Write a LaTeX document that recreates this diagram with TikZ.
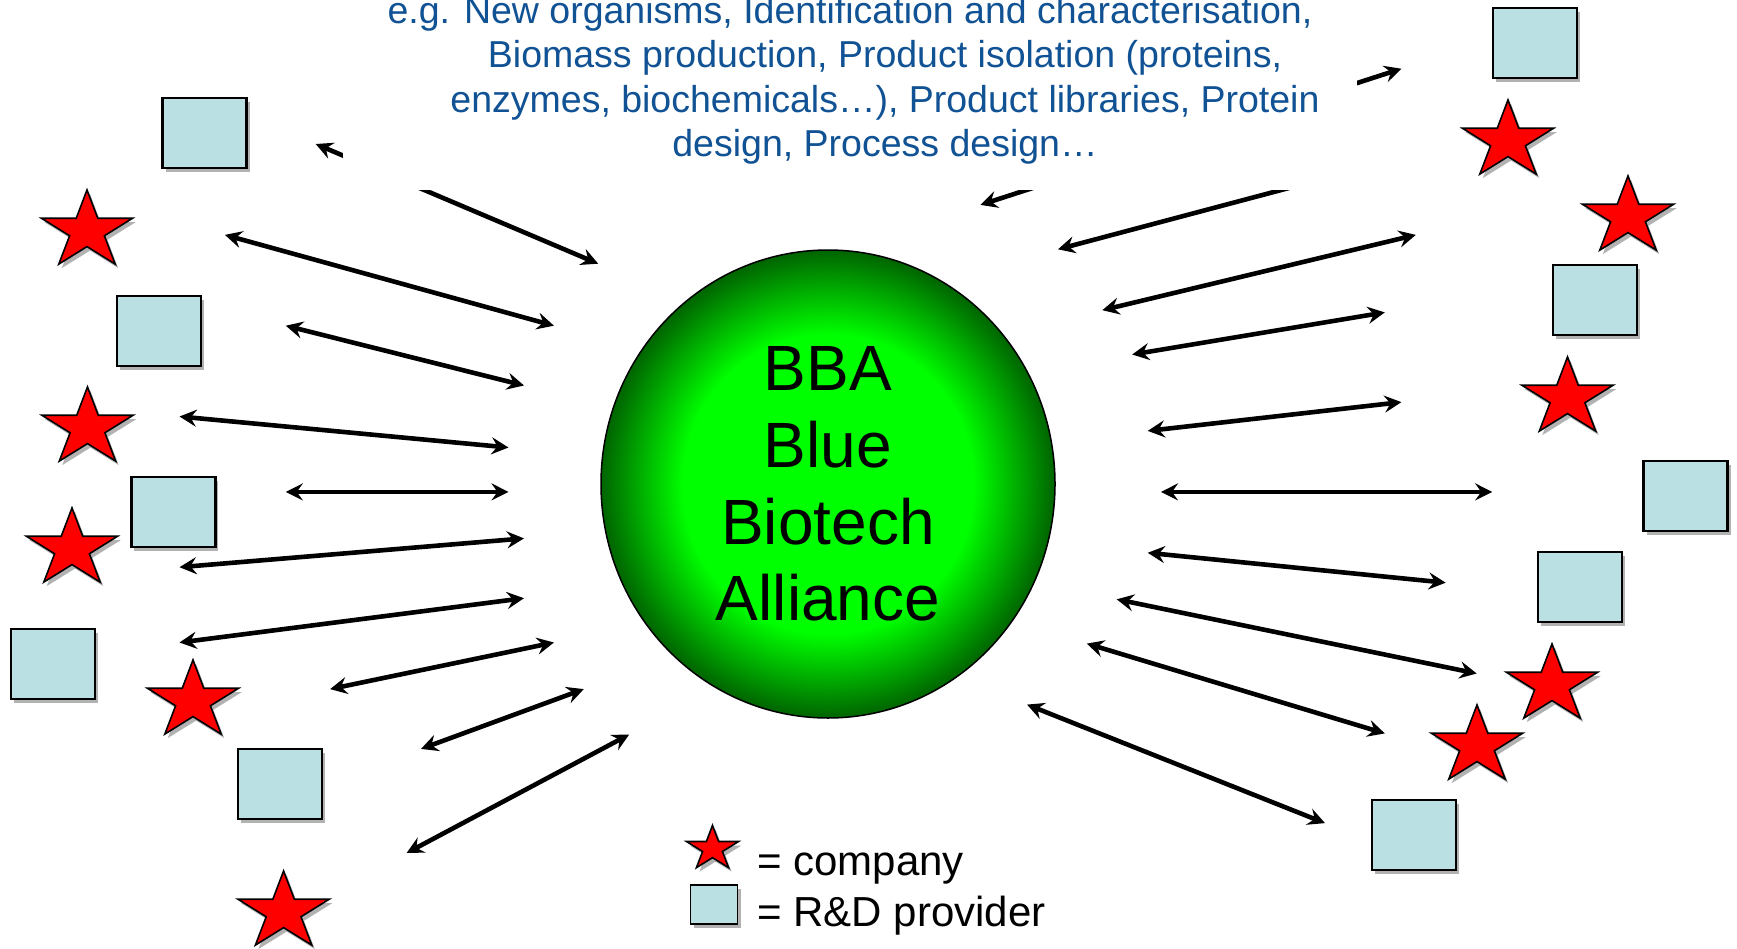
\documentclass[tikz,border=0pt]{standalone}
\usepackage{fontspec}
\setmainfont{Liberation Sans}
\usetikzlibrary{arrows.meta,shapes.geometric,shadows}
\definecolor{bbgreen}{RGB}{0,255,0}
\definecolor{bbdark}{RGB}{0,100,0}
\definecolor{sqblue}{RGB}{186,224,227}
\definecolor{txtblue}{RGB}{16,82,148}
\pgfdeclareradialshading{bbashade}{\pgfpoint{0bp}{0bp}}{color(0bp)=(bbgreen); color(16bp)=(bbgreen); color(25bp)=(bbdark); color(50bp)=(bbdark)}
\tikzset{
  shd/.style={drop shadow={shadow xshift=3pt, shadow yshift=-4pt, opacity=0.3, fill=black}},
  provider/.style={rectangle, draw=black, line width=2.2pt, fill=sqblue, minimum width=84pt, minimum height=70pt, inner sep=0pt, shd},
  starshape/.style={draw=black, line width=1.6pt, fill=red, line join=miter, shd},
  company/.pic={\path[starshape] (0,-37.1) -- (10.76,-8.77) -- (45.6,-8.77) -- (17.4,8.77) -- (28.2,37.1) -- (0,19.6) -- (-28.2,37.1) -- (-17.4,8.77) -- (-45.6,-8.77) -- (-10.76,-8.77) -- cycle; \coordinate (-c) at (0,0);},
  biarrow/.style={line width=4.6pt, {Stealth[length=17pt,width=17pt,inset=6pt]}-{Stealth[length=17pt,width=17pt,inset=6pt]}},
  toptxt/.style={font=\fontsize{37.5}{45}\selectfont, text=txtblue, inner sep=0pt, anchor=base},
  legtxt/.style={font=\fontsize{42}{50}\selectfont, text=black, inner sep=0pt, anchor=base west},
}
\begin{document}
\begin{tikzpicture}[x=1pt,y=-1pt]
\useasboundingbox (0,0) rectangle (1737,948);

% central alliance
\node[ellipse, draw=black, line width=1.5pt, shading=bbashade, minimum width=454pt, minimum height=468pt, inner sep=0pt, align=center, font=\fontsize{64}{76.7}\selectfont] (bba) at (828,484) {BBA\\Blue\\Biotech\\Alliance};

% R&D providers
\node[provider] (q1) at (204.5,133.3) {};
\node[provider] (q2) at (159,330.7) {};
\node[provider] (q3) at (173.4,511.8) {};
\node[provider] (q4) at (52.6,663.6) {};
\node[provider] (q5) at (279.7,784.3) {};
\node[provider] (q6) at (1534.9,43.2) {};
\node[provider] (q7) at (1594.7,300.2) {};
\node[provider] (q8) at (1685.5,496.3) {};
\node[provider] (q9) at (1580.3,587.1) {};
\node[provider] (q10) at (1414.1,835.3) {};

% companies
\pic (s1) at (87,227) {company};
\pic (s2) at (87.5,424) {company};
\pic (s3) at (72,545) {company};
\pic (s4) at (193,697) {company};
\pic (s5) at (283.6,908) {company};
\pic (s6) at (1508,137) {company};
\pic (s7) at (1628,213) {company};
\pic (s8) at (1567.5,394) {company};
\pic (s9) at (1552,681) {company};
\pic (s10) at (1477,742) {company};

% arrow end points
\coordinate (l1a) at (315.7,144.0);  \coordinate (l1b) at (598.2,263.7);
\coordinate (l2a) at (224.9,234.9);  \coordinate (l2b) at (553.9,325.7);
\coordinate (l3a) at (285.8,325.7);  \coordinate (l3b) at (524.0,385.5);
\coordinate (l4a) at (179.5,416.5);  \coordinate (l4b) at (508.5,447.5);
\coordinate (l5a) at (285.8,491.9);  \coordinate (l5b) at (508.5,491.9);
\coordinate (l6a) at (179.5,567.2);  \coordinate (l6b) at (524.0,538.4);
\coordinate (l7a) at (179.5,642.5);  \coordinate (l7b) at (524.0,598.2);
\coordinate (l8a) at (330.1,689.1);  \coordinate (l8b) at (553.9,642.5);
\coordinate (l9a) at (421.0,748.9);  \coordinate (l9b) at (583.8,689.1);
\coordinate (l10a) at (406.6,853.0); \coordinate (l10b) at (629.2,734.5);
\coordinate (r1a) at (980.4,204.9);  \coordinate (r1b) at (1401.4,68.7);
\coordinate (r2a) at (1058,249.3);   \coordinate (r2b) at (1346,172.8);
\coordinate (r3a) at (1102.3,310.2); \coordinate (r3b) at (1415.8,234.9);
\coordinate (r4a) at (1132.2,354.5); \coordinate (r4b) at (1384.8,312.4);
\coordinate (r5a) at (1147.7,430.9); \coordinate (r5b) at (1401.4,402.1);
\coordinate (r6a) at (1161,491.9);   \coordinate (r6b) at (1492.2,491.9);
\coordinate (r7a) at (1147.7,552.8); \coordinate (r7b) at (1445.7,582.7);
\coordinate (r8a) at (1116.7,599.3); \coordinate (r8b) at (1476.7,673.5);
\coordinate (r9a) at (1086.8,643.6); \coordinate (r9b) at (1384.8,733.4);
\coordinate (r10a) at (1027,704.6);  \coordinate (r10b) at (1325,823.1);

\foreach \n in {l1,l2,l3,l4,l5,l6,l7,l8,l9,l10,r1,r2,r3,r4,r5,r6,r7,r8,r9,r10}
  \draw[biarrow] (\n a) -- (\n b);

% text box (white background hides the arrows behind it)
\node[fill=white, inner sep=0pt, minimum width=1014pt, minimum height=220pt, anchor=south west] (tbox) at (343,190.5) {};
\node[toptxt] (t1) at (850,23.6) {e.g. New organisms, Identification and characterisation,};
\node[toptxt] (t2) at (885,67.9) {Biomass production, Product isolation (proteins,};
\node[toptxt] (t3) at (885,112.2) {enzymes, biochemicals…), Product libraries, Protein};
\node[toptxt] (t4) at (885,156.5) {design, Process design…};

% legend
\pic[scale=0.57] (ls) at (712.5,846.5) {company};
\node[provider, minimum width=47pt, minimum height=39pt, line width=1.8pt] (lq) at (714,904.7) {};
\node[legtxt] (lt1) at (757,875) {= company};
\node[legtxt] (lt2) at (757,926.5) {= R\&D provider};
\end{tikzpicture}
\end{document}
